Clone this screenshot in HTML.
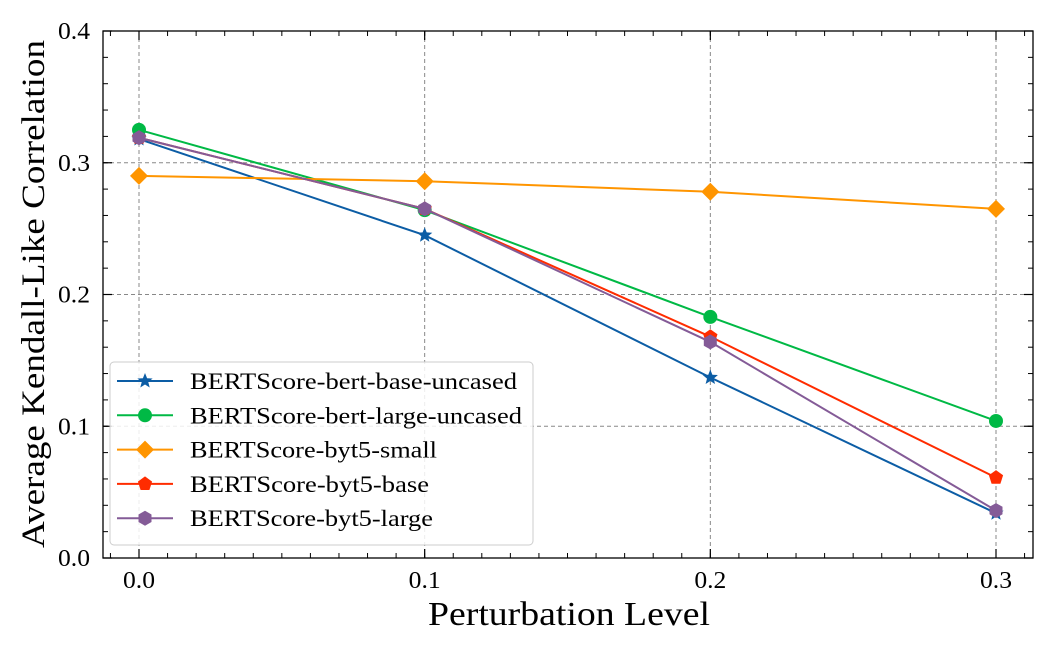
<!DOCTYPE html>
<html><head><meta charset="utf-8"><style>
html,body{margin:0;padding:0;background:#fff;}
svg{display:block;font-family:"Liberation Serif",serif;}
</style></head><body>
<svg id="chart" width="1050" height="648" viewBox="0 0 1050 648" xmlns="http://www.w3.org/2000/svg">
<g id="grid"></g>
<g id="ticks"></g>
<g id="series"></g>
<rect x="103" y="31" width="930" height="527" fill="none" stroke="#000" stroke-width="1.3"/>
<text x="428" y="625" font-size="34" textLength="282" lengthAdjust="spacingAndGlyphs">Perturbation Level</text>
<text transform="translate(44,548) rotate(-90)" font-size="33" textLength="508" lengthAdjust="spacingAndGlyphs">Average Kendall-Like Correlation</text>
<g id="legend"></g>
</svg>
<script>
const xValues=[0.0,0.1,0.2,0.3];
const xTickLabels=["0.0","0.1","0.2","0.3"];
const yTicks=[0.0,0.1,0.2,0.3,0.4];
const yTickLabels=["0.0","0.1","0.2","0.3","0.4"];
const seriesNames=["BERTScore-bert-base-uncased","BERTScore-bert-large-uncased","BERTScore-byt5-small","BERTScore-byt5-base","BERTScore-byt5-large"];
const bertBase=[0.318,0.245,0.137,0.034];
const bertLarge=[0.325,0.264,0.183,0.104];
const byt5Small=[0.290,0.286,0.278,0.265];
const byt5Base=[0.319,0.265,0.168,0.061];
const byt5Large=[0.319,0.265,0.164,0.036];
const seriesValues=[bertBase,bertLarge,byt5Small,byt5Base,byt5Large];
const colors=["#0C5DA5","#00B945","#FF9500","#FF2C00","#845B97"];
const markers=["star","circle","diamond","pentagon","hexagon"];
const legendTextWidths=[327,332,247,239,243];

const NS="http://www.w3.org/2000/svg";
const L=103,R=1033,T=31,B=558;
const xs=v=>139+(v-0.0)/0.3*(996-139);
const ys=v=>B-(v/0.4)*(B-T);
function mk(tag,attrs,parent){const e=document.createElementNS(NS,tag);for(const k in attrs)e.setAttribute(k,attrs[k]);parent.appendChild(e);return e;}
const grid=document.getElementById('grid'),ticks=document.getElementById('ticks'),ser=document.getElementById('series'),leg=document.getElementById('legend');

xValues.forEach((v,i)=>{
  const x=xs(v);
  const g=mk('line',{x1:x,x2:x,y1:T,y2:B,stroke:'#888','stroke-dasharray':'4,3','stroke-width':1},grid);
  
  mk('line',{x1:x,x2:x,y1:B,y2:B-9,stroke:'#000','stroke-width':1.2},ticks);
  mk('line',{x1:x,x2:x,y1:T,y2:T+9,stroke:'#000','stroke-width':1.2},ticks);
  const t=mk('text',{x:x,y:B+30,'font-size':24,'text-anchor':'middle',textLength:32,lengthAdjust:'spacingAndGlyphs'},ticks);
  t.textContent=xTickLabels[i];
  
});
for(let v=-0.01;v<=0.321;v+=0.01){const x=xs(v);if(x<L||x>R)continue;
  mk('line',{x1:x,x2:x,y1:B,y2:B-5,stroke:'#000','stroke-width':1},ticks);
  mk('line',{x1:x,x2:x,y1:T,y2:T+5,stroke:'#000','stroke-width':1},ticks);}
yTicks.forEach((v,i)=>{
  const y=ys(v);
  if(i>0&&i<yTicks.length-1){const g=mk('line',{x1:L,x2:R,y1:y,y2:y,stroke:'#888','stroke-dasharray':'4,3','stroke-width':1},grid);
  }
  mk('line',{x1:L,x2:L+9,y1:y,y2:y,stroke:'#000','stroke-width':1.2},ticks);
  mk('line',{x1:R,x2:R-9,y1:y,y2:y,stroke:'#000','stroke-width':1.2},ticks);
  const t=mk('text',{x:L-45,y:y+8,'font-size':24,textLength:32,lengthAdjust:'spacingAndGlyphs'},ticks);
  t.textContent=yTickLabels[i];
  
});
for(let v=0.02;v<0.4;v+=0.02){const y=ys(v);
  mk('line',{x1:L,x2:L+5,y1:y,y2:y,stroke:'#000','stroke-width':1},ticks);
  mk('line',{x1:R,x2:R-5,y1:y,y2:y,stroke:'#000','stroke-width':1},ticks);}

function poly(cx,cy,n,r,rot,inner){let p=[];const k=inner?2*n:n;for(let i=0;i<k;i++){const a=rot+i*2*Math.PI/k;const rr=inner&&(i%2)?inner:r;p.push((cx+rr*Math.cos(a)).toFixed(1)+','+(cy+rr*Math.sin(a)).toFixed(1));}return p.join(' ');}
function marker(type,cx,cy,color,parent){
  let e;
  if(type==='circle')e=mk('circle',{cx:cx,cy:cy,r:7,fill:color},parent);
  else if(type==='star')e=mk('polygon',{points:poly(cx,cy,5,8,-Math.PI/2,3.5),fill:color},parent);
  else if(type==='diamond')e=mk('polygon',{points:poly(cx,cy,4,9,-Math.PI/2),fill:color},parent);
  else if(type==='pentagon')e=mk('polygon',{points:poly(cx,cy,5,7.5,-Math.PI/2),fill:color},parent);
  else e=mk('polygon',{points:poly(cx,cy,6,7.5,-Math.PI/2),fill:color},parent);
  return e;
}
seriesValues.forEach((vals,si)=>{
  const g=mk('g',{},ser);
  
  const pts=vals.map((v,i)=>xs(xValues[i])+','+ys(v)).join(' ');
  const l=mk('polyline',{points:pts,fill:'none',stroke:colors[si],'stroke-width':2},g);
  
  vals.forEach((v,i)=>{const m=marker(markers[si],xs(xValues[i]),ys(v),colors[si],g);
    });
});
const box=mk('rect',{x:110,y:362,width:423,height:183,rx:4,fill:'#fff','fill-opacity':0.85,stroke:'#ccc','stroke-width':1},leg);

seriesNames.forEach((n,si)=>{
  const y=381+si*34.3;
  const g=mk('g',{},leg);
  
  mk('line',{x1:117,x2:173,y1:y,y2:y,stroke:colors[si],'stroke-width':2},g);
  marker(markers[si],145,y,colors[si],g);
  const t=mk('text',{x:190,y:y+8,'font-size':23,textLength:legendTextWidths[si],lengthAdjust:'spacingAndGlyphs'},g);t.textContent=n;
});
</script>
</body></html>
